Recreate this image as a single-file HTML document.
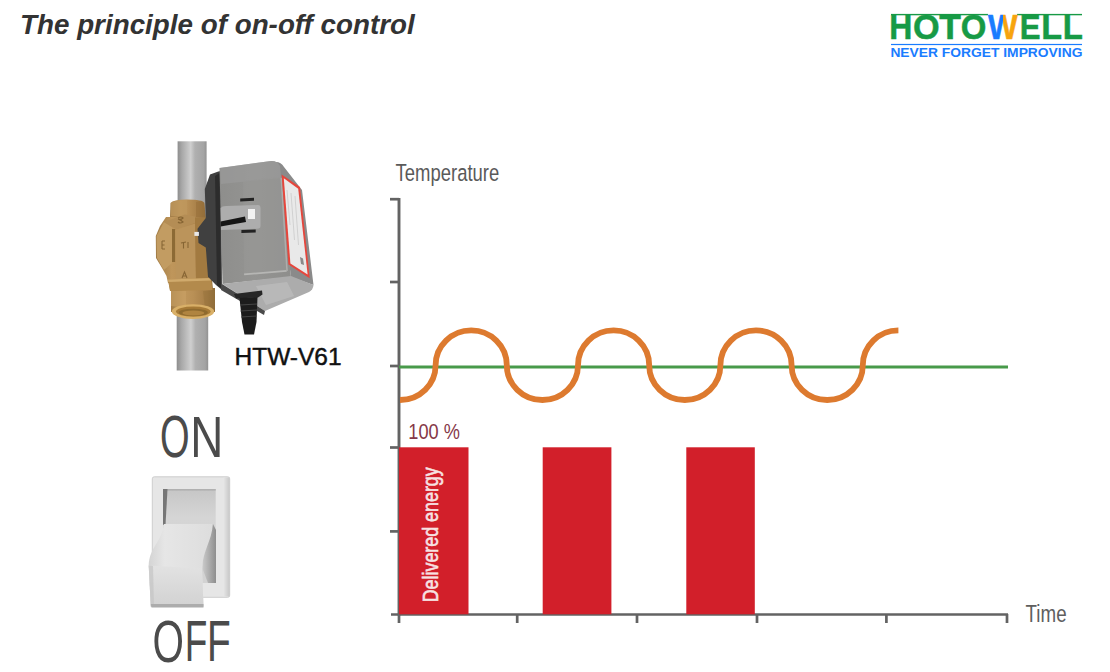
<!DOCTYPE html>
<html><head><meta charset="utf-8"><style>
html,body{margin:0;padding:0;background:#fff;}
body{width:1110px;height:672px;position:relative;overflow:hidden;font-family:"Liberation Sans",sans-serif;}
.t{position:absolute;white-space:nowrap;}
#title{left:20px;top:9px;font-size:27.8px;font-weight:bold;font-style:italic;color:#333;}
#model{left:234.5px;top:343px;font-size:24.5px;color:#111;-webkit-text-stroke:0.45px #111;}
svg{position:absolute;left:0;top:0;}
</style></head><body>
<div class="t" id="title">The principle of on-off control</div>

<svg width="1110" height="672" viewBox="0 0 1110 672" font-family="Liberation Sans, sans-serif">
<defs>
  <linearGradient id="pipe" x1="0" x2="1" y1="0" y2="0">
    <stop offset="0" stop-color="#8e8e8e"/>
    <stop offset="0.15" stop-color="#a8a8a8"/>
    <stop offset="0.45" stop-color="#cfcfcf"/>
    <stop offset="0.6" stop-color="#b0b0b0"/>
    <stop offset="0.9" stop-color="#a4a4a4"/>
    <stop offset="1" stop-color="#929292"/>
  </linearGradient>
  <linearGradient id="brass" x1="0" x2="1" y1="0" y2="0">
    <stop offset="0" stop-color="#a07b45"/>
    <stop offset="0.3" stop-color="#bf965b"/>
    <stop offset="0.5" stop-color="#b99056"/>
    <stop offset="0.8" stop-color="#a67e47"/>
    <stop offset="1" stop-color="#8c6a38"/>
  </linearGradient>
  <linearGradient id="box" x1="0" x2="1" y1="0" y2="0">
    <stop offset="0" stop-color="#8e8e8c"/>
    <stop offset="0.5" stop-color="#949492"/>
    <stop offset="1" stop-color="#8e8e8c"/>
  </linearGradient>
  <linearGradient id="rock" x1="0" x2="1" y1="0" y2="0">
    <stop offset="0" stop-color="#d4d4d4"/>
    <stop offset="0.25" stop-color="#e6e6e6"/>
    <stop offset="1" stop-color="#dddddd"/>
  </linearGradient>
  <linearGradient id="recess" x1="0" x2="0" y1="0" y2="1">
    <stop offset="0" stop-color="#c6c6c6"/>
    <stop offset="0.3" stop-color="#d5d5d5"/>
    <stop offset="1" stop-color="#d2d2d2"/>
  </linearGradient>
  <linearGradient id="rside" x1="0" x2="1" y1="0" y2="0">
    <stop offset="0" stop-color="#c8c8c8"/>
    <stop offset="1" stop-color="#8e8e8e"/>
  </linearGradient>
  <linearGradient id="rockf" x1="0" x2="0" y1="0" y2="1">
    <stop offset="0" stop-color="#e2e2e2"/>
    <stop offset="1" stop-color="#d2d2d2"/>
  </linearGradient>
  <linearGradient id="pright" x1="0" x2="1" y1="0" y2="0">
    <stop offset="0" stop-color="#e6e6e6"/>
    <stop offset="1" stop-color="#c8c8c8"/>
  </linearGradient>
</defs>

<!-- LOGO -->
<g>
  <rect x="891" y="13.9" width="97" height="1.4" fill="#179a45"/>
  <rect x="1017" y="13.9" width="65" height="1.4" fill="#179a45"/>
  <text transform="translate(889.26 39.20) scale(0.8983 1)" font-size="35.60" font-weight="bold" fill="#179a45" stroke="#179a45" stroke-width="0.5">H</text>
  <text transform="translate(913.10 39.20) scale(0.9622 1)" font-size="35.60" font-weight="bold" fill="#179a45" stroke="#179a45" stroke-width="0.5">O</text>
  <text transform="translate(939.20 39.20) scale(0.9970 1)" font-size="35.60" font-weight="bold" fill="#179a45" stroke="#179a45" stroke-width="0.5">T</text>
  <text transform="translate(960.85 39.20) scale(0.9258 1)" font-size="35.60" font-weight="bold" fill="#179a45" stroke="#179a45" stroke-width="0.5">O</text>
  <clipPath id="wl"><rect x="980" y="10" width="23" height="35"/></clipPath>
  <clipPath id="wr"><rect x="1003" y="10" width="20" height="35"/></clipPath>
  <g clip-path="url(#wl)"><text transform="translate(987.97 39.20) scale(0.8828 1)" font-size="35.60" font-weight="bold" fill="#1a7cff" stroke="#1a7cff" stroke-width="0.5">W</text></g>
  <g clip-path="url(#wr)"><text transform="translate(987.97 39.20) scale(0.8828 1)" font-size="35.60" font-weight="bold" fill="#f7a40e" stroke="#f7a40e" stroke-width="0.5">W</text></g>
  <text transform="translate(1019.71 39.20) scale(0.8762 1)" font-size="35.60" font-weight="bold" fill="#179a45" stroke="#179a45" stroke-width="0.5">E</text>
  <text transform="translate(1041.32 39.20) scale(0.9579 1)" font-size="35.60" font-weight="bold" fill="#179a45" stroke="#179a45" stroke-width="0.5">L</text>
  <text transform="translate(1062.70 39.20) scale(0.9250 1)" font-size="35.60" font-weight="bold" fill="#179a45" stroke="#179a45" stroke-width="0.5">L</text>
  <rect x="891" y="43.9" width="191" height="1.2" fill="#1a7cff"/>
  <text x="890.4" y="56.8" font-size="12.9" font-weight="bold" fill="#1a7cff" textLength="192" lengthAdjust="spacingAndGlyphs">NEVER FORGET IMPROVING</text>
</g>

<!-- VALVE -->
<g>
  <rect x="177.6" y="141.3" width="29" height="80" fill="url(#pipe)"/>
  <rect x="176.7" y="300" width="31.5" height="70.5" fill="url(#pipe)"/>
  <!-- brass -->
  <g fill="url(#brass)">
    <path d="M170 217 L170.5 203 Q173 199.5 187 199.5 Q203 199.5 204.3 203 L205.5 217 Z"/>
    <path d="M166 217 L206 217 L209 280 L168 283 L166.5 276 L162 268 L156 258 L155.8 236 L160 226 Z"/>
    <path d="M168 280 L212 279 L213 290 L170 290 Z"/>
    <path d="M171 288 L215 288 L215 312 L171 312 Z"/>
  </g>
  <path d="M171 203 Q174 200 187 200 L187 216 L171 216 Z" fill="#bf985e" opacity="0.7"/>
  <path d="M196 202 Q203 200 204.3 204 L205.5 217 L196 217 Z" fill="#97703a" opacity="0.6"/>
  <path d="M156.5 236 L164 222 L172 227 L172 263 L164 270 L157 258 Z" fill="#c29c62"/>
  <path d="M164 222 L185 214.5 L195 216.5 L195 223 L177 229.5 L172 227 Z" fill="#b48d55"/>
  <rect x="172" y="229" width="3.2" height="33" fill="#8c6a35"/>
  <path d="M175.2 230 L195 223.5 L196 280 L176 282 Z" fill="#bb945b"/>
  <path d="M195 218 L206 217.5 L209 280 L196 281 Z" fill="#a27a40"/>
  <path d="M168 279.5 L211 278 L212.5 290 L170 291 Z" fill="#b38a4c"/>
  <path d="M168 279.5 L211 278 L211.2 280.5 L168.3 282 Z" fill="#d0aa6c"/>
  <path d="M171 291 L186 291 L186 308 L171 306 Z" fill="#c9a266" opacity="0.6"/>
  <path d="M203 291 L215 291 L215 308 L205 309 Z" fill="#94703a" opacity="0.45"/>
  <g fill="none" stroke="#7a5a2a" stroke-width="1.1" opacity="0.8">
    <path d="M178 218 q3 -2 5 0 q-2 2 -5 1 q3 1 5 3 q-3 2 -5 0"/>
    <path d="M162 241 l0 8 M162 241 l3 0 M162 245 l2.5 0 M162 249 l3 0"/>
    <path d="M181 243 l5 -1 M183.5 242.5 l0 6 M188 242 l0 6"/>
    <path d="M182 278 l2.5 -6 l2.5 6 M183 276 l3 0"/>
  </g>
  <ellipse cx="193" cy="311.6" rx="21.2" ry="7.4" fill="#d9b068"/>
  <ellipse cx="193.3" cy="311.6" rx="17.3" ry="5.1" fill="#a67a36"/>
  <ellipse cx="193.3" cy="312.4" rx="14.5" ry="3.6" fill="#8e6a2e"/>
  <ellipse cx="193.3" cy="313" rx="11" ry="2.4" fill="#b08440"/>
  <!-- actuator bracket -->
  <path d="M210 174.6 L218.3 171.5 L221 171 L222 290 L216 285 L208 276.7 L205.8 247.5 L198.5 243 L197.5 228.8 L205.8 218 L204.8 189 Z" fill="#404040"/>
  <path d="M215 176 L219.5 173 L221 288 L217 285 Z" fill="#2c2c2c"/>
  <rect x="194.4" y="231.9" width="4.5" height="4" fill="#e8e8e8"/>
  <!-- right side face -->
  <path d="M276 162 Q281 162 284 167 L302 190 L313.5 285 L291 277 Z" fill="#8a8a8a"/>
  <!-- box front face -->
  <path d="M219.5 168 L271 161 Q277 160.5 280 166 L291 277 L222.5 284 Z" fill="url(#box)"/>
  <path d="M220 168 L271 161 Q277 160.5 280 166 L281 178 L221 184 Z" fill="#9c9c9c" opacity="0.6"/>
  <path d="M243 181 L281 177 L287 271.5 L244 275 Z" fill="#989896" opacity="0.6"/>
  <path d="M244 273.5 L286.5 270 L286.7 271.8 L244.2 275.3 Z" fill="#b6b6b4"/>
  <path d="M280.5 178 L282 177.8 L287.8 271 L286.3 271.2 Z" fill="#adadab"/>
  <!-- label -->
  <path d="M281.6 174.5 L300 187 L309.7 278.2 L288.4 264.6 Z" fill="#e6463c"/>
  <path d="M283.8 178.3 L298.2 188.8 L307.6 274.6 L290.4 263.4 Z" fill="#e9e9e9"/>
  <g stroke="#cacaca" stroke-width="0.8">
    <line x1="287" y1="190" x2="290" y2="225"/>
    <line x1="291" y1="193" x2="294.5" y2="240"/>
    <line x1="295" y1="196" x2="298.5" y2="245"/>
  </g>
  <path d="M300 257 L303 258.5 L304 265 L301 264 Z" fill="#8a8a8a"/>
  <!-- bottom face -->
  <path d="M222.5 284 L291 276 L313.5 285 Q313 290 309 292 L265 311 Z" fill="#acacac"/>
  <path d="M222 284 L265 311 L264 315 L221 290 Z" fill="#4a4a4a"/>
  <path d="M256 286 L287 282 L294 296 L266 305 Z" fill="#bcbcbc" opacity="0.8"/>
  <!-- lever slot -->
  <path d="M220.6 208 Q222 206 226 206 L258 205 Q260.5 205 260.5 208 L260.5 226 Q260.5 228.8 257 228.8 L221 230 Z" fill="#adadad"/>
  <path d="M220.6 221.5 L245 216.5 L246 222 L220.6 226.5 Z" fill="#151515"/>
  <rect x="248" y="209" width="7" height="10" fill="#f2f2f2"/>
  <path d="M240.2 198.5 L254 197.8 L254 200.8 L240.2 201.5 Z" fill="#222"/>
  <path d="M241.4 230 L255.7 229.5 L255.7 232.5 L241.4 233 Z" fill="#222"/>
  <!-- cable gland -->
  <path d="M234 294 L262 290.5 L262.5 294.5 L258 297.5 L236 298.5 Z" fill="#262626"/>
  <path d="M239.5 298 L257.5 297 L256.5 322 L254 334.5 L244.5 334.5 L242 322 Z" fill="#1c1c1c"/>
  <g stroke="#444" stroke-width="1">
    <line x1="240" y1="305" x2="257" y2="304"/>
    <line x1="240.5" y1="311" x2="257" y2="310"/>
    <line x1="241" y1="317" x2="256.5" y2="316"/>
  </g>
</g>

<!-- SWITCH -->
<g>
  <text transform="translate(159.90 457.22) scale(0.6467 1)" font-size="58.90" fill="#4b4b4b">O</text>
  <text transform="translate(190.34 457.00) scale(0.7922 1)" font-size="57.85" fill="#4b4b4b">N</text>
  <rect x="152.3" y="476.8" width="77.4" height="120.5" rx="2" fill="#e6e6e6" stroke="#cdcdcd" stroke-width="1"/>
  <rect x="223.5" y="477.5" width="6" height="119" fill="url(#pright)"/>
  <rect x="163" y="489" width="52.7" height="94" fill="url(#recess)"/>
  <rect x="163" y="489" width="52.7" height="1.6" fill="#b0b0b0"/>
  <path d="M163 489 L167.5 489 L165.5 525 L163 525 Z" fill="#767676"/>
  <path d="M203 524 L213 524 L216 530 L216 583 L208 583 L203 570 Z" fill="url(#rside)"/>
  <path d="M163.8 524 L212.9 524 C211.5 542 203 550 202 568.4 L203.5 606.5 L150.8 606.5 L148.7 565.5 C149.5 547 162 542 163.8 524 Z" fill="url(#rock)"/>
  <path d="M148.7 565.5 L202 568.4 L203.5 606.5 L150.8 606.5 Z" fill="url(#rockf)"/>
  <path d="M148.7 565.5 L153 566 L154 606.5 L150.8 606.5 Z" fill="#c4c4c4" opacity="0.7"/>
  <path d="M150.8 604 L203.5 604 L203.5 607.5 L151.5 607.5 Z" fill="#acacac"/>
  <text transform="translate(152.38 661.72) scale(0.6784 1)" font-size="59.60" fill="#4b4b4b">O</text>
  <text transform="translate(184.86 660.70) scale(0.6466 1)" font-size="57.27" fill="#4b4b4b">F</text>
  <text transform="translate(207.11 660.70) scale(0.6788 1)" font-size="57.27" fill="#4b4b4b">F</text>
</g>

<!-- CHART -->
<g>
  <text x="395.6" y="180.7" font-size="24.5" fill="#5a5a5a" textLength="103.6" lengthAdjust="spacingAndGlyphs">Temperature</text>
  <line x1="399" y1="198" x2="399" y2="615.5" stroke="#636363" stroke-width="2.9"/>
  <g stroke="#636363" stroke-width="2.7">
    <line x1="390" y1="199.2" x2="399" y2="199.2"/>
    <line x1="390" y1="282" x2="399" y2="282"/>
    <line x1="390" y1="366" x2="399" y2="366"/>
    <line x1="390" y1="447.5" x2="399" y2="447.5"/>
    <line x1="390" y1="531.4" x2="399" y2="531.4"/>
    <line x1="391" y1="614.5" x2="1008" y2="614.5"/>
    <line x1="399" y1="614" x2="399" y2="623"/>
    <line x1="517.2" y1="614" x2="517.2" y2="623"/>
    <line x1="637" y1="614" x2="637" y2="623"/>
    <line x1="757" y1="614" x2="757" y2="623"/>
    <line x1="886.4" y1="614" x2="886.4" y2="623"/>
    <line x1="1007" y1="614" x2="1007" y2="623"/>
  </g>
  <line x1="399" y1="366.9" x2="1008" y2="366.9" stroke="#489a4a" stroke-width="3"/>
  <path d="M400 400 A35.6 34.8 0 0 0 435.6 365.2 A35.6 34.8 0 0 1 506.8 365.2 A35.6 34.8 0 0 0 578 365.2 A35.6 34.8 0 0 1 649.2 365.2 A35.6 34.8 0 0 0 720.4 365.2 A35.6 34.8 0 0 1 791.6 365.2 A35.6 34.8 0 0 0 862.8 365.2 A35.6 34.8 0 0 1 898.4 330.4" fill="none" stroke="#dd7a2f" stroke-width="5.8"/>
  <text x="408.3" y="439.3" font-size="22.5" fill="#863848" textLength="51.6" lengthAdjust="spacingAndGlyphs">100 %</text>
  <g fill="#d21f2a">
    <rect x="399" y="447.3" width="69.5" height="167"/>
    <rect x="542.7" y="447.3" width="68.7" height="167"/>
    <rect x="686.3" y="447.3" width="68.5" height="167"/>
  </g>
  <text transform="translate(437.6 602.3) rotate(-90)" font-size="22" fill="#f7e2e2" stroke="#f7e2e2" stroke-width="0.6" textLength="135" lengthAdjust="spacingAndGlyphs">Delivered energy</text>
  <text x="1025.6" y="621.6" font-size="23" fill="#5e5e5e" textLength="41" lengthAdjust="spacingAndGlyphs">Time</text>
</g>
</svg>
<div class="t" id="model">HTW-V61</div>
</body></html>
